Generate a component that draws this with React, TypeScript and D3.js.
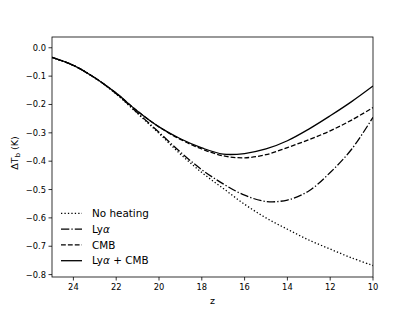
import React from "react";
import * as d3 from "d3";

const zValues = [25, 24, 23, 22, 21, 20, 19, 18, 17, 16, 15, 14, 13, 12, 11, 10];
const noHeating = [-0.034, -0.062, -0.106, -0.163, -0.232, -0.302, -0.375, -0.44, -0.496, -0.552, -0.6, -0.64, -0.678, -0.71, -0.741, -0.768];
const lyA = [-0.034, -0.062, -0.106, -0.162, -0.23, -0.298, -0.368, -0.43, -0.48, -0.52, -0.542, -0.537, -0.505, -0.44, -0.358, -0.245];
const cmb = [-0.034, -0.062, -0.106, -0.16, -0.224, -0.279, -0.323, -0.357, -0.381, -0.388, -0.377, -0.352, -0.324, -0.293, -0.255, -0.211];
const lyaCmb = [-0.034, -0.062, -0.106, -0.16, -0.224, -0.279, -0.321, -0.353, -0.375, -0.373, -0.357, -0.328, -0.287, -0.24, -0.19, -0.135];

const xTicks = [24, 22, 20, 18, 16, 14, 12, 10];
const yTicks = [0.0, -0.1, -0.2, -0.3, -0.4, -0.5, -0.6, -0.7, -0.8];

const lw = 1.3;
const series = [
  { name: "No heating", values: noHeating, dash: `${1 * lw},${1.65 * lw}` },
  { name: "Ly", values: lyA, dash: `${6.4 * lw},${1.6 * lw},${1 * lw},${1.6 * lw}` },
  { name: "CMB", values: cmb, dash: `${3.7 * lw},${1.6 * lw}` },
  { name: "Ly", values: lyaCmb, dash: "none" },
];

const W = 415;
const H = 311;
const margin = { left: 52, right: 42, top: 37, bottom: 34 };

export default function App() {
  const x = d3.scaleLinear().domain([25, 10]).range([margin.left, W - margin.right]);
  const y = d3.scaleLinear().domain([-0.8085, 0.038]).range([H - margin.bottom, margin.top]);
  const line = d3
    .line<number>()
    .x((_, i) => x(zValues[i]))
    .y((d) => y(d))
    .curve(d3.curveCatmullRom.alpha(0.5));
  const font = "DejaVu Sans, sans-serif";
  const fmt = (v: number) => (v < 0 ? "\u2212" : "") + Math.abs(v).toFixed(1);

  // legend labels: Lyα uses italic alpha like matplotlib mathtext
  const labels = [
    <>No heating</>,
    <>
      Ly<tspan fontStyle="italic">α</tspan>
    </>,
    <>CMB</>,
    <>
      Ly<tspan fontStyle="italic">α</tspan> + CMB
    </>,
  ];

  return (
    <svg width={W} height={H} style={{ position: "absolute", left: 0, top: 0 }} fontFamily={font}>
      <rect width={W} height={H} fill="#fff" />
      <defs>
        <clipPath id="plot">
          <rect x={margin.left} y={margin.top} width={W - margin.left - margin.right} height={H - margin.top - margin.bottom} />
        </clipPath>
      </defs>
      <g clipPath="url(#plot)">
        {series.map((s, i) => (
          <path key={i} d={line(s.values) || ""} fill="none" stroke="#000" strokeWidth={lw} strokeDasharray={s.dash} />
        ))}
      </g>
      <rect
        x={margin.left}
        y={margin.top}
        width={W - margin.left - margin.right}
        height={H - margin.top - margin.bottom}
        fill="none"
        stroke="#000"
        strokeWidth={0.8}
      />
      {xTicks.map((t) => (
        <g key={t}>
          <line x1={x(t)} x2={x(t)} y1={H - margin.bottom} y2={H - margin.bottom + 3.5} stroke="#000" strokeWidth={0.8} />
          <text x={x(t)} y={H - margin.bottom + 13} textAnchor="middle" fontSize={8.3}>
            {t}
          </text>
        </g>
      ))}
      {yTicks.map((t) => (
        <g key={t}>
          <line x1={margin.left - 3.5} x2={margin.left} y1={y(t)} y2={y(t)} stroke="#000" strokeWidth={0.8} />
          <text x={margin.left - 6} y={y(t) + 3} textAnchor="end" fontSize={8.3}>
            {fmt(t)}
          </text>
        </g>
      ))}
      <text x={(margin.left + W - margin.right) / 2} y={H - 7.5} textAnchor="middle" fontSize={9.5}>
        z
      </text>
      <text transform={`translate(17.5,153) rotate(-90)`} textAnchor="middle" fontSize={9.5}>
        ΔT<tspan fontSize={6.8} dy={2}>b</tspan>
        <tspan dy={-2}> (K)</tspan>
      </text>
      {series.map((s, i) => {
        const ly = 213.3 + i * 15.8;
        return (
          <g key={i}>
            <line x1={61} x2={82} y1={ly} y2={ly} stroke="#000" strokeWidth={lw} strokeDasharray={s.dash} />
            <text x={92} y={ly + 3.7} fontSize={10.4}>
              {labels[i]}
            </text>
          </g>
        );
      })}
    </svg>
  );
}
